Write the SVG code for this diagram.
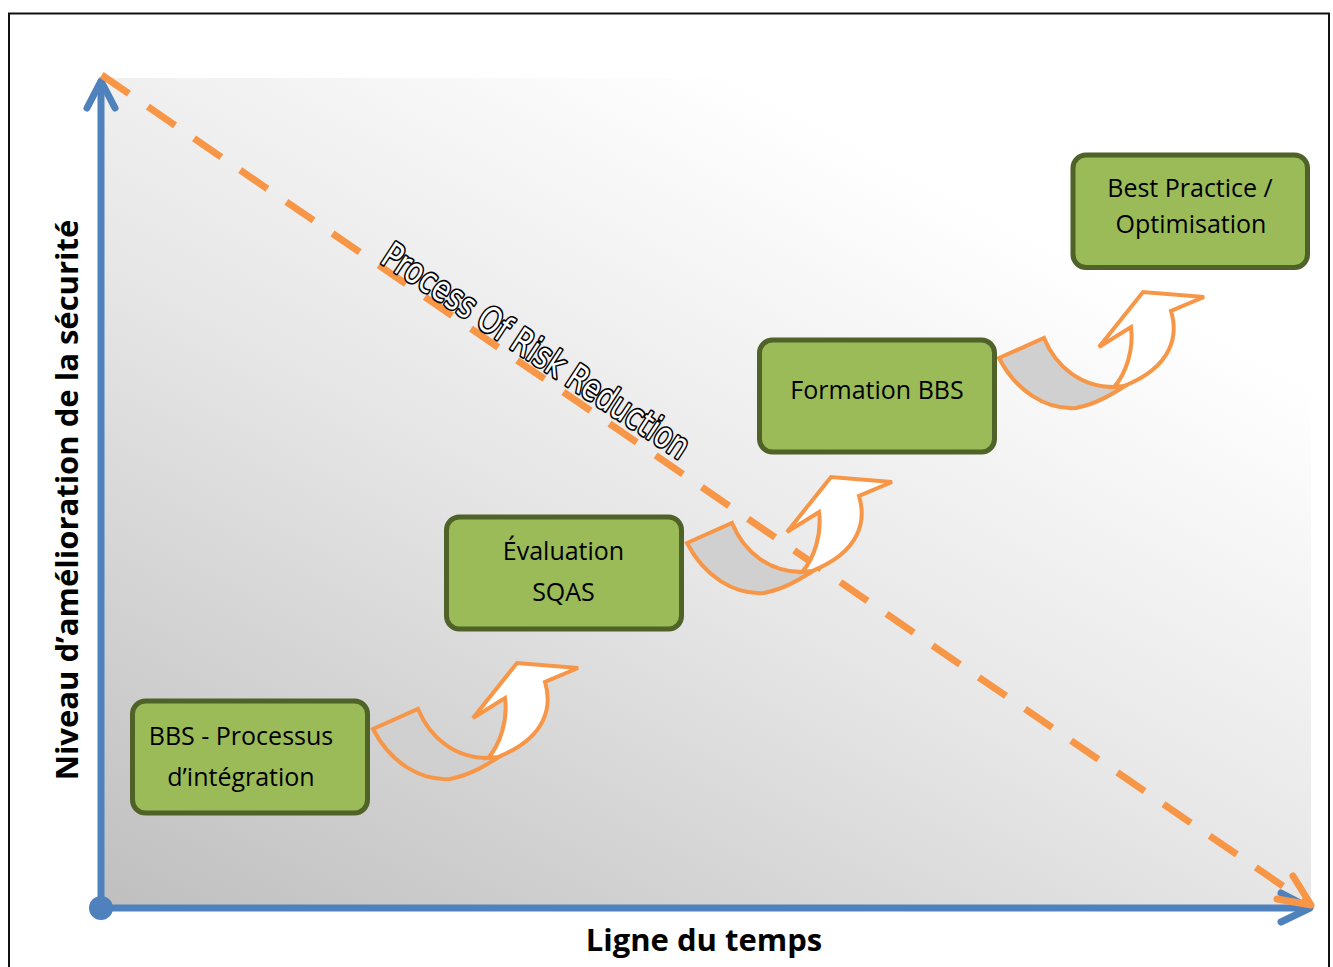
<svg xmlns="http://www.w3.org/2000/svg" width="1333" height="967" viewBox="0 0 1333 967">
  <defs>
    <linearGradient id="bg" x1="0" y1="1" x2="0.68" y2="0.12">
      <stop offset="0" stop-color="#bfbfbf"/>
      <stop offset="0.55" stop-color="#e6e6e6"/>
      <stop offset="1" stop-color="#ffffff"/>
    </linearGradient>
    <g id="curved">
      <path class="tail" d="M373,729 L418,709 C430,738 455,758 488,758 L502,755 C485,766 470,775 450,779 C420,781 390,762 373,729 Z"/>
      <path class="shaft" d="M488,758 C500,745 508,720 505,698 L473,718 L517,663 L578,668 L545,682 C552,705 548,737 498,757 Z"/>
    </g>
  </defs>
  <style>
    .node rect { fill: #9bbb59; stroke: #4f6228; stroke-width: 5; }
    .node text { font-family: "Open Sans", "Liberation Sans", sans-serif; font-size: 25px; fill: #000; text-anchor: middle; }
    .axis { stroke: #4f81bd; stroke-width: 7; fill: none; stroke-linecap: round; stroke-linejoin: round; }
    .tail { fill: #d0d0d0; stroke: #f79646; stroke-width: 4; stroke-linejoin: miter; }
    .shaft { fill: #ffffff; stroke: #f79646; stroke-width: 4; stroke-linejoin: miter; }
    .label { font-family: "Open Sans", "Liberation Sans", sans-serif; font-weight: bold; font-size: 31px; fill: #000; }
  </style>

  <rect x="0" y="0" width="1333" height="967" fill="#ffffff"/>
  <rect x="9" y="13.5" width="1320" height="970" fill="none" stroke="#111" stroke-width="2"/>

  <!-- gradient area -->
  <rect x="101" y="78" width="1210" height="830" fill="url(#bg)"/>

  <!-- axes -->
  <g id="axes">
    <line class="axis" x1="101" y1="908" x2="101" y2="82"/>
    <polyline class="axis" points="87,108 101,81 115,108"/>
    <line class="axis" x1="101" y1="908" x2="1308" y2="908"/>
    <polyline class="axis" points="1281,893 1310,908 1281,922"/>
    <circle cx="101" cy="908" r="12" fill="#4f81bd"/>
  </g>

  <!-- dashed risk reduction line -->
  <g id="risk-line">
    <line x1="101.7" y1="75" x2="1309" y2="904" stroke="#f79646" stroke-width="7" stroke-dasharray="33 23"/>
    <polyline points="1293,876 1311,905 1277,899" fill="none" stroke="#f79646" stroke-width="7" stroke-linecap="round" stroke-linejoin="round"/>
    <text transform="translate(379,262) rotate(33.4)" x="0" y="0" textLength="360" lengthAdjust="spacingAndGlyphs" font-family="DejaVu Sans Condensed, DejaVu Sans, sans-serif" font-size="36" fill="#ffffff" stroke="#000" stroke-width="3.4" stroke-linejoin="round" paint-order="stroke">Process Of Risk Reduction</text>
  </g>

  <!-- connectors -->
  <g id="connectors">
    <use href="#curved"/>
    <use href="#curved" transform="translate(314,-186)"/>
    <use href="#curved" transform="translate(626,-371)"/>
  </g>

  <!-- nodes -->
  <g id="node-bbs" class="node">
    <rect x="132.5" y="701" width="235" height="112" rx="13"/>
    <text x="241" y="745">BBS - Processus</text>
    <text x="241" y="786">d’intégration</text>
  </g>
  <g id="node-sqas" class="node">
    <rect x="446.5" y="517" width="235" height="112" rx="13"/>
    <text x="563.5" y="560">Évaluation</text>
    <text x="563.5" y="601">SQAS</text>
  </g>
  <g id="node-formation" class="node">
    <rect x="759.5" y="340" width="235" height="112" rx="13"/>
    <text x="877" y="399">Formation BBS</text>
  </g>
  <g id="node-best" class="node">
    <rect x="1073" y="155" width="234.5" height="112.5" rx="13"/>
    <text x="1190" y="197">Best Practice /</text>
    <text x="1191" y="233">Optimisation</text>
  </g>

  <!-- axis labels -->
  <text class="label" transform="translate(78,500) rotate(-90)" text-anchor="middle">Niveau d’amélioration de la sécurité</text>
  <text class="label" x="704" y="951" text-anchor="middle" font-size="30">Ligne du temps</text>
</svg>
